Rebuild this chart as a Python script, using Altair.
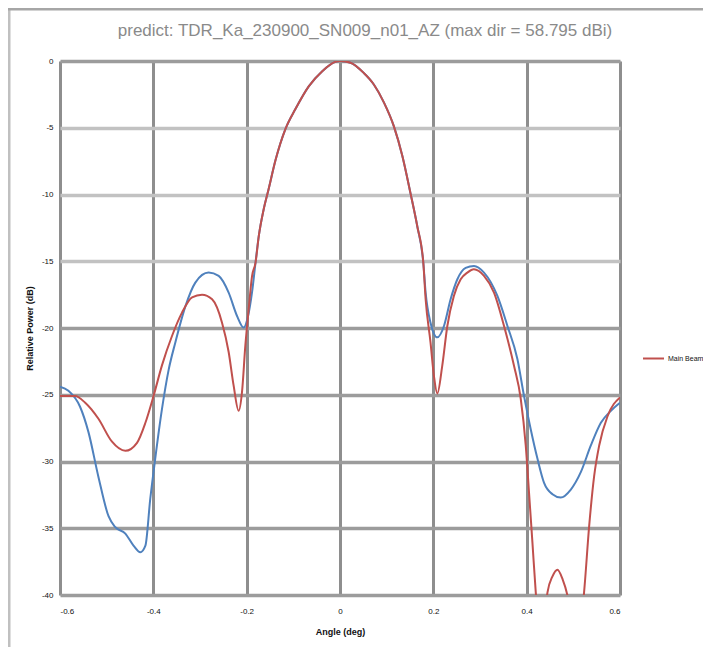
import altair as alt
import pandas as pd

# Main lobe (shared by both traces)
main_angle = [-0.181, -0.174, -0.1635, -0.153, -0.138, -0.117, -0.0955, -0.067, -0.038, -0.0097,
              0.0, 0.0225, 0.051, 0.0725, 0.094, 0.1155, 0.1335, 0.151, 0.1657, 0.1785]
main_db = [-15.1, -13.1, -11.1, -9.6, -7.4, -5.1, -3.6, -1.9, -0.76, -0.06,
           0.0, -0.13, -0.9, -1.76, -3.1, -4.9, -7.1, -9.9, -12.4, -15.1]

# Red trace (legend entry)
red_left_angle = [-0.6, -0.5676, -0.546, -0.5176, -0.489, -0.46, -0.435, -0.417, -0.3996, -0.3815,
                  -0.36, -0.3386, -0.317, -0.2957, -0.274, -0.2528, -0.2386, -0.228, -0.2172, -0.21,
                  -0.2028, -0.1957, -0.1884]
red_left_db = [-25.1, -25.1, -25.6, -26.8, -28.5, -29.2, -28.6, -27.1, -25.1, -22.8,
               -20.6, -18.85, -17.7, -17.5, -17.85, -19.6, -21.8, -24.3, -26.2, -24.8,
               -21.3, -18.6, -16.1]
red_right_angle = [0.1835, 0.194, 0.2013, 0.2085, 0.219, 0.23, 0.244, 0.2586, 0.273, 0.287,
                   0.3086, 0.33, 0.3515, 0.373, 0.3873, 0.398, 0.405, 0.4124, 0.4195, 0.432,
                   0.4446, 0.4553, 0.466, 0.4768, 0.4875, 0.505, 0.523, 0.534, 0.5446, 0.5554,
                   0.5734, 0.6]
red_right_db = [-17.85, -21.1, -23.6, -24.9, -22.85, -19.85, -17.6, -16.35, -15.85, -15.6,
                -16.1, -17.35, -19.85, -22.85, -25.3, -28.8, -32.3, -36.1, -39.8, -44.0,
                -39.8, -38.6, -38.1, -38.8, -40.05, -44.5, -39.8, -34.8, -31.1, -28.8,
                -26.6, -25.2]

# Blue trace
blue_left_angle = [-0.6, -0.582, -0.557, -0.539, -0.518, -0.496, -0.482, -0.46, -0.4425, -0.428,
                   -0.417, -0.4066, -0.396, -0.3816, -0.367, -0.353, -0.3315, -0.31, -0.2815, -0.26,
                   -0.2386, -0.2206, -0.2064, -0.197, -0.1884]
blue_left_db = [-24.4, -24.7, -25.9, -27.8, -31.1, -34.1, -34.9, -35.4, -36.3, -36.8,
                -36.3, -32.8, -29.8, -26.1, -23.1, -21.1, -18.4, -16.6, -15.85, -16.1,
                -17.35, -19.1, -19.97, -19.1, -17.3]
blue_right_angle = [0.1835, 0.194, 0.2085, 0.2228, 0.237, 0.2515, 0.2693, 0.2871, 0.3086, 0.3373,
                    0.3588, 0.38, 0.3944, 0.4088, 0.4232, 0.4373, 0.4553, 0.473, 0.4946, 0.516,
                    0.5375, 0.559, 0.5805, 0.6]
blue_right_db = [-17.35, -19.6, -20.7, -19.85, -17.85, -16.35, -15.5, -15.35, -15.85, -17.6,
                 -19.85, -22.3, -25.1, -27.6, -29.8, -31.6, -32.45, -32.7, -32.1, -30.8,
                 -28.8, -27.1, -26.2, -25.6]

x_ticks = [-0.6, -0.4, -0.2, 0.0, 0.2, 0.4, 0.6]
y_ticks = [0, -5, -10, -15, -20, -25, -30, -35, -40]
legend_label = "Main Beam"
title_text = "predict: TDR_Ka_230900_SN009_n01_AZ (max dir = 58.795 dBi)"

red_df = pd.DataFrame({
    "angle": red_left_angle + main_angle + red_right_angle,
    "db": red_left_db + main_db + red_right_db,
    "series": legend_label,
})
blue_df = pd.DataFrame({
    "angle": blue_left_angle + main_angle + blue_right_angle,
    "db": blue_left_db + main_db + blue_right_db,
})

FONT = "Liberation Sans"

x_enc = alt.X("angle:Q",
              scale=alt.Scale(domain=[-0.6, 0.6], nice=False),
              axis=alt.Axis(values=x_ticks, title="Angle (deg)",
                            labelExpr="datum.value == 0 ? '0' : replace(format(datum.value, '.1f'), '\u2212', '-')",
                            grid=True, gridColor="#8e8e8e", gridWidth=3,
                            domain=False, ticks=False, labelPadding=12,
                            labelFontSize=8, labelFont=FONT, labelColor="#111111",
                            titleFontSize=9, titleFont=FONT, titleFontWeight="bold",
                            titleColor="#111111", titlePadding=12))
y_enc = alt.Y("db:Q",
              scale=alt.Scale(domain=[-40, 0], nice=False),
              axis=alt.Axis(values=y_ticks, title="Relative Power (dB)",
                            labelExpr="'' + datum.value",
                            grid=True,
                            gridColor={"condition": {"test": "datum.value <= -5 && datum.value >= -15",
                                                     "value": "#c2c2c2"},
                                       "value": "#9c9c9c"},
                            gridWidth=3.5,
                            domain=False, ticks=False, labelPadding=7,
                            labelFontSize=8, labelFont=FONT, labelColor="#111111",
                            titleFontSize=9, titleFont=FONT, titleFontWeight="bold",
                            titleColor="#111111", titleX=-26, titleY=267))

blue = alt.Chart(blue_df).mark_line(color="#4f81bd", strokeWidth=2, clip=True,
                                    interpolate="monotone").encode(x=x_enc, y=y_enc, order="angle:Q")
red = alt.Chart(red_df).mark_line(strokeWidth=2, clip=True, interpolate="monotone").encode(
    x="angle:Q", y="db:Q", order="angle:Q",
    color=alt.Color("series:N", scale=alt.Scale(range=["#c0504d"]),
                    legend=alt.Legend(title=None, orient="none", legendX=582, legendY=286,
                                      symbolType="stroke", symbolSize=440, symbolStrokeWidth=2,
                                      labelFontSize=7, labelFont=FONT, labelColor="#111111",
                                      labelOffset=3)),
)

frame_df = pd.DataFrame({"k": [0]})
left_border = alt.Chart(frame_df).mark_rule(color="#c0c0c0", strokeWidth=3).encode(
    x=alt.value(-51), y=alt.value(-53), y2=alt.value(600))
top_border = alt.Chart(frame_df).mark_rule(color="#a6a6a6", strokeWidth=3).encode(
    x=alt.value(-52), x2=alt.value(660), y=alt.value(-52))

chart = alt.layer(blue, red, left_border, top_border).properties(
    width=560, height=534,
    title=alt.TitleParams(title_text, fontSize=17, font=FONT, color="#8a8a8a",
                          fontWeight="normal", dx=25, dy=51, offset=18),
    autosize=alt.AutoSizeParams(type="none"),
    padding={"left": 52, "top": 53, "right": 83, "bottom": 52},
).configure_view(stroke=None).configure(background="white")

chart.save("out.html", embed_options={"renderer": "svg", "actions": False})
